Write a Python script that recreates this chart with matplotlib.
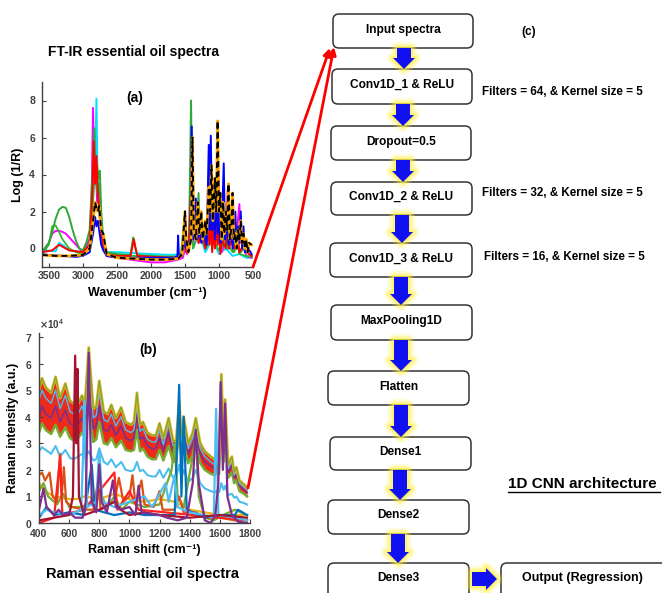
import numpy as np
import matplotlib
matplotlib.use('Agg')
import matplotlib.pyplot as plt
from matplotlib.patches import FancyBboxPatch, Polygon
from matplotlib.ticker import ScalarFormatter

plt.rcParams['font.family'] = ['Liberation Sans', 'DejaVu Sans']
plt.rcParams['font.weight'] = 'bold'
plt.rcParams['axes.labelweight'] = 'bold'

# ---------------- FT-IR spectra (panel a) ----------------
ftir_cyan_x = [3600, 3400, 3350, 3300, 3200, 3000, 2900, 2860, 2820, 2800, 2785, 2760, 2730, 2700, 2650, 2500, 2000, 1700, 1560, 1500, 1460, 1420, 1400, 1380, 1300, 1200, 1100, 1000, 900, 800, 700, 600, 520]
ftir_cyan_y = [-0.1, -0.15, 0.3, 0.2, -0.1, -0.2, 0.5, 2.5, 4.5, 8.1, 4.0, 3.0, 1.0, 0.0, -0.2, -0.2, -0.3, -0.35, -0.3, 0.0, -0.2, 0.5, 1.5, 0.0, 1.0, -0.2, 0.5, -0.3, 0.0, -0.4, -0.3, -0.5, -0.5]

ftir_magenta_x = [3600, 3500, 3450, 3400, 3350, 3300, 3250, 3200, 3100, 3000, 2900, 2870, 2850, 2830, 2810, 2790, 2760, 2730, 2700, 2650, 2500, 2000, 1800, 1600, 1530, 1500, 1470, 1420, 1400, 1380, 1320, 1300, 1240, 1200, 1100, 1080, 1000, 960, 900, 860, 800, 760, 700, 680, 640, 600, 520]
ftir_magenta_y = [-0.2, 0.3, 0.8, 0.95, 0.95, 0.9, 0.8, 0.6, 0.2, -0.2, 0.5, 3.0, 7.6, 3.5, 4.5, 2.5, 3.5, 1.5, 0.3, -0.4, -0.5, -0.75, -0.75, -0.6, -0.5, 0.0, -0.3, 0.3, 2.0, 0.3, 2.2, 0.3, 1.0, 0.0, 2.0, 0.3, 1.3, -0.2, 0.5, 0.0, 1.0, 0.0, 2.4, 0.3, 0.3, -0.4, -0.5]

ftir_green_x = [3600, 3500, 3450, 3400, 3350, 3300, 3250, 3200, 3150, 3100, 3050, 3000, 2950, 2900, 2860, 2830, 2810, 2790, 2770, 2750, 2730, 2700, 2650, 2500, 2300, 2260, 2240, 2200, 2000, 1700, 1560, 1510, 1480, 1440, 1410, 1390, 1350, 1330, 1300, 1280, 1240, 1200, 1160, 1140, 1120, 1100, 1060, 1040, 1000, 960, 900, 870, 820, 780, 720, 700, 640, 560, 520]
ftir_green_y = [-0.2, 0.3, 0.9, 1.6, 2.1, 2.25, 2.2, 1.7, 1.0, 0.4, 0.0, -0.1, 0.3, 1.0, 4.0, 6.5, 3.5, 4.5, 3.8, 4.2, 2.0, 0.5, -0.2, -0.3, -0.35, 0.6, 0.2, -0.35, -0.4, -0.45, -0.4, 1.5, 0.0, 0.5, 8.0, 1.0, 2.0, 0.5, 3.0, 0.5, 1.2, 0.2, 2.5, 1.0, 3.0, 1.0, 2.0, 0.5, 1.5, 0.0, 1.0, 0.0, 0.8, -0.2, 0.3, -0.3, 0.0, -0.3, -0.4]

ftir_green2_x = [3600, 3500, 3450, 3400, 3350, 3300, 3200, 3100, 3000, 2900, 2850, 2820, 2790, 2760, 2730, 2700, 2650, 2500, 2000, 1600, 1540, 1500, 1470, 1420, 1400, 1380, 1300, 1200, 1100, 1000, 900, 800, 740, 700, 600, 520]
ftir_green2_y = [-0.3, 0.2, 1.2, 1.25, 0.9, 0.5, 0.0, -0.2, -0.3, 0.3, 2.5, 4.3, 3.0, 3.5, 1.2, 0.2, -0.3, -0.35, -0.45, -0.45, -0.4, 0.5, -0.2, 0.4, 1.2, 0.0, 0.8, 0.0, 0.6, -0.1, 0.4, -0.2, 1.0, -0.3, -0.4, -0.45]

ftir_red_x = [3600, 3450, 3350, 3300, 3200, 3000, 2900, 2860, 2840, 2820, 2800, 2780, 2760, 2730, 2700, 2650, 2500, 2300, 2250, 2230, 2200, 2000, 1700, 1560, 1510, 1480, 1440, 1410, 1390, 1340, 1300, 1240, 1200, 1160, 1140, 1120, 1100, 1080, 1060, 1040, 1020, 1000, 980, 960, 900, 870, 850, 820, 780, 720, 700, 640, 560, 520]
ftir_red_y = [-0.2, -0.1, 0.2, 0.1, -0.1, -0.2, 0.2, 3.0, 5.8, 3.5, 5.0, 3.0, 2.0, 0.8, 0.2, -0.3, -0.4, -0.4, 0.5, 0.1, -0.4, -0.45, -0.5, -0.45, 0.3, -0.2, 0.5, 3.0, 0.5, 1.5, 0.3, 0.8, 0.0, 1.0, 0.2, 1.3, -0.2, 1.2, 0.0, 1.3, 0.2, 1.0, -0.3, 0.5, 0.0, 3.2, 0.0, 0.5, 0.0, 0.5, -0.2, 0.2, -0.3, -0.4]

ftir_blue_x = [3600, 3500, 3300, 3100, 3000, 2900, 2850, 2820, 2800, 2780, 2760, 2730, 2700, 2650, 2500, 2000, 1650, 1610, 1600, 1590, 1550, 1500, 1480, 1420, 1400, 1380, 1340, 1320, 1290, 1260, 1220, 1180, 1150, 1140, 1120, 1100, 1080, 1060, 1040, 1020, 1000, 980, 960, 930, 910, 880, 860, 820, 800, 760, 740, 720, 700, 680, 660, 640, 620, 600, 520]
ftir_blue_y = [-0.3, -0.35, -0.4, -0.45, -0.4, -0.2, 0.8, 1.7, 1.2, 1.5, 1.0, 0.2, -0.1, -0.4, -0.5, -0.5, -0.5, -0.4, 0.7, -0.3, -0.4, 0.5, 0.0, 0.5, 6.6, 0.5, 2.7, 0.5, 1.0, 0.3, 0.8, 0.2, 5.6, 1.0, 6.1, 1.0, 3.0, 0.5, 3.5, 0.8, 2.0, 0.3, 0.8, 4.6, 0.5, 1.5, 0.2, 1.0, 0.0, 2.0, 0.0, 1.2, 0.3, 2.0, 0.0, 1.2, -0.2, 0.2, -0.3]

ftir_black_x = [3600, 3400, 3200, 3000, 2900, 2850, 2820, 2800, 2780, 2760, 2730, 2700, 2650, 2500, 2000, 1800, 1600, 1540, 1500, 1480, 1450, 1410, 1390, 1370, 1340, 1310, 1290, 1260, 1240, 1200, 1180, 1150, 1130, 1110, 1090, 1060, 1040, 1020, 1000, 980, 960, 940, 920, 900, 880, 860, 840, 820, 800, 780, 760, 740, 720, 700, 680, 660, 640, 620, 600, 580, 560, 520]
ftir_black_y = [-0.35, -0.4, -0.4, -0.35, 0.0, 1.5, 2.5, 2.2, 2.0, 2.3, 1.0, 0.8, -0.3, -0.5, -0.6, -0.6, -0.55, -0.3, 2.0, 0.5, -0.2, 0.5, 6.0, 1.0, 0.5, 2.5, 0.8, 2.0, 0.5, 1.5, 0.8, 3.3, 2.0, 4.5, 1.5, 3.8, 2.0, 6.9, 2.0, 3.0, 0.5, 2.5, 0.8, 2.0, 1.0, 3.5, 0.5, 1.0, 3.0, 0.5, 0.8, 0.0, 1.0, 0.5, 1.5, 0.3, 0.8, 0.0, 0.5, -0.2, 0.3, 0.2]

ftir_xticks = [3500, 3000, 2500, 2000, 1500, 1000, 500]
ftir_yticks = [0, 2, 4, 6, 8]

# ---------------- Raman spectra (panel b), intensities in units of 1e4 ----------------
raman_band_x = [400, 420, 445, 480, 510, 540, 575, 605, 630, 660, 685, 705, 730, 760, 780, 800, 830, 855, 880, 910, 945, 975, 1010, 1030, 1050, 1070, 1090, 1120, 1150, 1175, 1200, 1225, 1260, 1290, 1310, 1330, 1345, 1360, 1390, 1420, 1440, 1470, 1500, 1540, 1565, 1580, 1595, 1610, 1625, 1635, 1655, 1680, 1695, 1710, 1730, 1760, 1780]
raman_band_top = [5.0, 5.45, 5.1, 4.9, 5.5, 4.7, 5.25, 4.6, 4.5, 4.5, 4.8, 4.5, 6.6, 4.3, 4.4, 5.35, 4.2, 4.1, 4.45, 3.95, 4.35, 3.8, 3.7, 3.8, 4.9, 3.7, 3.8, 3.4, 3.3, 3.3, 3.75, 3.2, 3.95, 3.1, 3.1, 4.6, 3.3, 4.0, 3.0, 3.4, 3.95, 3.0, 2.7, 2.5, 2.4, 2.6, 2.5, 5.6, 3.0, 4.65, 2.2, 2.5, 1.9, 2.1, 1.6, 1.45, 1.35]
raman_band_mid1 = [4.6, 5.0, 4.7, 4.5, 5.0, 4.3, 4.8, 4.2, 4.1, 4.1, 4.4, 4.1, 6.2, 3.95, 4.05, 4.9, 3.9, 3.8, 4.1, 3.65, 4.0, 3.5, 3.4, 3.5, 4.5, 3.45, 3.55, 3.15, 3.05, 3.05, 3.5, 2.95, 3.7, 2.9, 2.9, 4.3, 3.05, 3.75, 2.8, 3.2, 3.7, 2.8, 2.5, 2.3, 2.2, 2.4, 2.3, 5.2, 2.8, 4.3, 2.05, 2.35, 1.8, 1.95, 1.5, 1.35, 1.25]
raman_band_mid2 = [4.0, 4.4, 4.1, 3.95, 4.4, 3.8, 4.25, 3.75, 3.65, 3.7, 3.95, 3.7, 5.5, 3.55, 3.65, 4.4, 3.5, 3.45, 3.7, 3.3, 3.65, 3.2, 3.1, 3.2, 4.1, 3.15, 3.25, 2.9, 2.8, 2.8, 3.2, 2.7, 3.4, 2.65, 2.65, 4.0, 2.8, 3.45, 2.6, 2.95, 3.45, 2.6, 2.3, 2.15, 2.05, 2.2, 2.15, 4.8, 2.6, 4.0, 1.9, 2.2, 1.7, 1.85, 1.4, 1.25, 1.15]
raman_band_bottom = [3.4, 3.75, 3.5, 3.35, 3.7, 3.25, 3.6, 3.2, 3.1, 3.2, 3.4, 3.2, 4.5, 3.05, 3.15, 3.8, 3.0, 2.95, 3.2, 2.85, 3.1, 2.75, 2.7, 2.75, 3.5, 2.7, 2.8, 2.5, 2.4, 2.4, 2.75, 2.35, 2.9, 2.3, 2.3, 3.5, 2.45, 3.0, 2.25, 2.55, 3.0, 2.25, 2.0, 1.85, 1.8, 1.9, 1.85, 4.2, 2.3, 3.5, 1.7, 1.9, 1.5, 1.6, 1.2, 1.1, 1.0]
raman_band_cyan = [2.7, 2.85, 2.75, 2.6, 2.9, 2.5, 2.75, 2.45, 2.4, 2.5, 2.6, 2.45, 2.7, 2.35, 2.4, 2.8, 2.3, 2.2, 2.4, 2.1, 2.3, 2.0, 1.95, 2.0, 2.3, 1.95, 2.0, 1.8, 1.75, 1.75, 2.0, 1.7, 2.05, 1.7, 1.7, 2.2, 1.7, 2.0, 1.55, 1.7, 2.0, 1.5, 1.3, 1.2, 1.15, 1.2, 1.15, 1.5, 1.25, 1.4, 1.05, 1.1, 0.95, 1.0, 0.8, 0.75, 0.7]

raman_yellow_x = [400, 440, 500, 600, 650, 700, 800, 900, 1000, 1100, 1200, 1300, 1400, 1500, 1600, 1780]
raman_yellow_y = [1.5, 1.2, 1.0, 0.9, 0.9, 1.0, 0.9, 1.1, 0.9, 0.8, 0.9, 0.8, 0.5, 0.4, 0.3, 0.3]
raman_green_x = [400, 430, 460, 520, 560, 600, 680, 760, 800, 850, 900, 950, 1000, 1050, 1100, 1200, 1280, 1300, 1320, 1360, 1420, 1440, 1460, 1500, 1560, 1620, 1700, 1780]
raman_green_y = [1.2, 1.5, 1.0, 0.7, 1.1, 0.6, 0.6, 0.8, 1.2, 0.6, 1.0, 0.5, 0.8, 0.7, 0.6, 0.7, 2.0, 3.0, 1.0, 0.6, 2.5, 3.3, 1.0, 0.2, 0.1, 0.3, 0.5, 0.3]
raman_orange_x = [400, 420, 440, 470, 490, 520, 540, 550, 565, 580, 620, 700, 760, 790, 810, 900, 930, 960, 1000, 1020, 1040, 1080, 1100, 1160, 1200, 1220, 1300, 1330, 1360, 1440, 1500, 1600, 1700, 1780]
raman_orange_y = [1.8, 1.9, 1.6, 1.9, 1.0, 0.8, 2.6, 1.0, 2.1, 0.8, 0.6, 0.5, 0.5, 1.5, 0.5, 0.8, 1.7, 0.8, 1.0, 1.8, 0.7, 1.6, 0.7, 0.6, 1.2, 0.5, 0.5, 1.0, 0.4, 0.4, 0.2, 0.2, 0.1, 0.1]
raman_red_x = [400, 500, 540, 555, 700, 900, 920, 1000, 1060, 1780]
raman_red_y = [0.0, 0.2, 2.5, 0.3, 0.5, 1.9, 0.5, 1.2, 0.5, 0.1]
raman_blue_x = [400, 450, 500, 600, 700, 750, 770, 900, 1000, 1100, 1300, 1330, 1345, 1360, 1380, 1500, 1600, 1700, 1720, 1780]
raman_blue_y = [0.2, 0.6, 0.3, 0.4, 0.3, 2.2, 0.5, 0.3, 0.4, 0.3, 0.3, 5.2, 1.0, 4.0, 0.5, 0.2, 0.3, 0.3, 0.5, 0.3]
raman_cyan_x = [400, 450, 500, 600, 680, 692, 700, 708, 720, 780, 800, 820, 900, 1000, 1100, 1150, 1240, 1260, 1300, 1320, 1400, 1500, 1560, 1575, 1590, 1700, 1780]
raman_cyan_y = [0.3, 0.5, 0.4, 0.3, 0.5, 2.5, 4.6, 2.5, 0.6, 0.8, 2.8, 0.8, 0.6, 0.8, 1.0, 0.6, 1.5, 0.8, 1.8, 0.6, 0.4, 0.3, 0.2, 4.3, 0.3, 0.2, 0.1]
raman_darkred_x = [400, 500, 600, 625, 640, 648, 655, 665, 700, 800, 900, 940, 1000, 1100, 1200, 1400, 1600, 1780]
raman_darkred_y = [0.1, 0.2, 0.3, 1.0, 6.3, 3.0, 5.8, 1.0, 0.3, 0.5, 0.8, 0.5, 0.3, 0.4, 0.3, 0.2, 0.3, 0.2]
raman_purple_x = [400, 430, 450, 500, 530, 560, 600, 640, 690, 710, 722, 730, 738, 750, 780, 800, 815, 850, 890, 910, 940, 1000, 1040, 1060, 1080, 1200, 1250, 1320, 1380, 1420, 1440, 1460, 1500, 1540, 1570, 1590, 1605, 1620, 1635, 1650, 1680, 1720, 1780]
raman_purple_y = [0.5, 1.3, 0.6, 0.3, 0.5, 0.3, 0.4, 0.2, 0.2, 0.8, 4.0, 6.4, 4.0, 0.8, 0.4, 2.2, 0.8, 0.4, 1.6, 0.6, 0.5, 0.6, 0.3, 1.4, 0.4, 0.3, 0.2, 0.1, 0.2, 1.5, 3.5, 1.5, 0.1, 0.0, 0.3, 1.5, 5.3, 2.0, 4.5, 1.0, 0.3, 0.05, 0.0]

raman_xticks = [400, 600, 800, 1000, 1200, 1400, 1600, 1800]
raman_yticks = [0, 1, 2, 3, 4, 5, 6, 7]
raman_scale = 1e4

# ---------------- Flowchart text ----------------
layer_labels = ["Input spectra", "Conv1D_1 & ReLU", "Dropout=0.5", "Conv1D_2 & ReLU",
                "Conv1D_3 & ReLU", "MaxPooling1D", "Flatten", "Dense1", "Dense2", "Dense3"]
output_label = "Output (Regression)"
filter_notes = ["Filters = 64, & Kernel size = 5", "Filters = 32, & Kernel size = 5",
                "Filters = 16, & Kernel size = 5"]

W, H = 662, 593
fig = plt.figure(figsize=(W / 100, H / 100), dpi=100)
fig.patch.set_facecolor('white')

def px_axes(l, t, r, b):
    return fig.add_axes([l / W, 1 - b / H, (r - l) / W, (b - t) / H])

tick_color = '#404040'

def style_axes(ax):
    for s in ['top', 'right']:
        ax.spines[s].set_visible(False)
    for s in ['left', 'bottom']:
        ax.spines[s].set_color(tick_color)
        ax.spines[s].set_linewidth(1.0)
    ax.tick_params(direction='in', length=3, width=0.8, labelsize=7.5,
                   colors=tick_color, pad=3)
    ax.tick_params(axis='y', pad=5)
    for lab in ax.get_xticklabels() + ax.get_yticklabels():
        lab.set_fontweight('bold')

# ---- panel (a)
axa = px_axes(42, 82, 253, 267)
axa.plot(ftir_cyan_x, ftir_cyan_y, color='#00E0FF', lw=1.4)
axa.plot(ftir_magenta_x, ftir_magenta_y, color='#FF00FF', lw=1.4)
axa.plot(ftir_green2_x, ftir_green2_y, color='#33B833', lw=1.3)
axa.plot(ftir_green_x, ftir_green_y, color='#2EA836', lw=1.4)
axa.plot(ftir_red_x, ftir_red_y, color='#FF0000', lw=1.4)
axa.plot(ftir_blue_x, ftir_blue_y, color='#0000FF', lw=1.4)
axa.plot(ftir_black_x, ftir_black_y, color='#FFA500', lw=2.0)
axa.plot(ftir_black_x, ftir_black_y, color='black', lw=1.4, dashes=(3, 2))
axa.set_xlim(3600, 500)
axa.set_ylim(-1, 9)
axa.set_xticks(ftir_xticks)
axa.set_yticks(ftir_yticks)
style_axes(axa)
axa.set_xlabel('Wavenumber (cm⁻¹)', fontsize=9, fontweight='bold', labelpad=4)
axa.set_ylabel('Log (1/R)', fontsize=9, fontweight='bold', labelpad=4)

# ---- panel (b)
axb = px_axes(39, 333, 250, 523)
bx = np.array(raman_band_x)
axb.fill_between(bx, np.array(raman_band_bottom) * raman_scale,
                 np.array(raman_band_top) * raman_scale, color='#EE2A1B', lw=0)
axb.plot(bx, np.array(raman_band_cyan) * raman_scale, color='#4DBEEE', lw=1.5)
axb.plot(bx, np.array(raman_band_bottom) * raman_scale, color='#77AC30', lw=1.8)
axb.plot(bx, np.array(raman_band_mid2) * raman_scale, color='#7E2F8E', lw=1.2)
axb.plot(bx, np.array(raman_band_mid1) * raman_scale, color='#4DBEEE', lw=1.0)
axb.plot(bx, np.array(raman_band_top) * raman_scale, color='#EDB120', lw=2.0)
axb.plot(bx, np.array(raman_band_top) * raman_scale, color='#77AC30', lw=0.9)
low_series = [
    (raman_yellow_x, raman_yellow_y, '#EDB120'),
    (raman_green_x, raman_green_y, '#77AC30'),
    (raman_orange_x, raman_orange_y, '#D95319'),
    (raman_red_x, raman_red_y, '#FF2020'),
    (raman_blue_x, raman_blue_y, '#0072BD'),
    (raman_cyan_x, raman_cyan_y, '#4DBEEE'),
    (raman_darkred_x, raman_darkred_y, '#A2142F'),
    (raman_purple_x, raman_purple_y, '#7E2F8E'),
]
for xs, ys, c in low_series:
    axb.plot(xs, np.array(ys) * raman_scale, color=c, lw=1.6)
axb.set_xlim(400, 1800)
axb.set_ylim(0, 7.15 * raman_scale)
axb.set_xticks(raman_xticks)
axb.set_yticks(np.array(raman_yticks) * raman_scale)
fmt = ScalarFormatter(useMathText=True)
fmt.set_powerlimits((0, 0))
axb.yaxis.set_major_formatter(fmt)
style_axes(axb)
axb.tick_params(axis='x', pad=4)
axb.yaxis.get_offset_text().set_fontsize(7)
axb.yaxis.get_offset_text().set_color(tick_color)
axb.set_xlabel('Raman shift (cm⁻¹)', fontsize=9, fontweight='bold', labelpad=4)
axb.set_ylabel('Raman intensity (a.u.)', fontsize=9, fontweight='bold', labelpad=4)

# ---- overlay in pixel coordinates
ov = fig.add_axes([0, 0, 1, 1], zorder=10)
ov.set_xlim(0, W)
ov.set_ylim(H, 0)
ov.axis('off')
ov.patch.set_alpha(0)

ov.text(133, 52, 'FT-IR essential oil spectra', ha='center', va='center', fontsize=10, fontweight='bold')
ov.text(135, 98, '(a)', ha='center', va='center', fontsize=10, fontweight='bold')
ov.text(148, 350, '(b)', ha='center', va='center', fontsize=10, fontweight='bold')
ov.text(143, 574, 'Raman essential oil spectra', ha='center', va='center', fontsize=10.5, fontweight='bold')
ov.text(529, 32, '(c)', ha='center', va='center', fontsize=8.5, fontweight='bold')

box_geom = [(333, 14, 473, 48), (332, 69, 472, 104), (331, 126, 471, 160), (331, 182, 472, 215),
            (330, 243, 472, 277), (331, 305, 472, 340), (328, 371, 469, 405), (330, 437, 471, 470),
            (328, 500, 469, 534), (328, 563, 469, 603)]
for lab, (l, t, r, b) in zip(layer_labels, box_geom):
    ov.add_patch(FancyBboxPatch((l, t), r - l, b - t, boxstyle='round,pad=0,rounding_size=6',
                                fc='white', ec='#333333', lw=1.1))
    cy = (t + b) / 2 - 1.5 if lab != 'Dense3' else 578
    ov.text((l + r) / 2, cy, lab, ha='center', va='center', fontsize=8.6, fontweight='bold')
ov.add_patch(FancyBboxPatch((501, 563), 200, 40, boxstyle='round,pad=0,rounding_size=6',
                            fc='white', ec='#333333', lw=1.1))
ov.text(582, 578, output_label, ha='center', va='center', fontsize=9, fontweight='bold')

for note, (x, y) in zip(filter_notes, [(482, 92), (482, 193), (484, 257)]):
    ov.text(x, y, note, ha='left', va='center', fontsize=8.4, fontweight='bold')

ov.text(508, 484, '1D CNN architecture', ha='left', va='center', fontsize=11, fontweight='bold')
ov.plot([508, 660], [492, 492], color='black', lw=1.0)

def block_arrow(x0, y0, x1, y1):
    # arrow from (x0,y0) to (x1,y1), vertical or horizontal
    hw, hh, hl = 7, 11, 11
    if x0 == x1:
        d = 1 if y1 > y0 else -1
        yh = y1 - d * hl
        pts = [(x0 - hw, y0), (x0 + hw, y0), (x0 + hw, yh), (x0 + hh, yh), (x0, y1),
               (x0 - hh, yh), (x0 - hw, yh)]
    else:
        d = 1 if x1 > x0 else -1
        xh = x1 - d * hl
        pts = [(x0, y0 - hw), (x0, y0 + hw), (xh, y0 + hw), (xh, y0 + hh), (x1, y0),
               (xh, y0 - hh), (xh, y0 - hw)]
    for lw, a in [(9, 0.18), (6, 0.3), (3, 0.5)]:
        ov.add_patch(Polygon(pts, closed=True, fc='none', ec='#FFF040', lw=lw, alpha=a,
                             joinstyle='round'))
    ov.add_patch(Polygon(pts, closed=True, fc='#1010F0', ec='none'))

for cx, y0, y1 in [(404, 48, 69), (403, 104, 126), (403, 160, 182), (402, 215, 243),
                   (401, 277, 305), (401, 340, 371), (401, 405, 437), (400, 470, 500),
                   (398, 534, 563)]:
    block_arrow(cx, y0, cx, y1)
block_arrow(472, 579, 497, 579)

for sx, sy, ex, ey in [(253, 267, 330, 48), (248, 488, 334, 47)]:
    ov.annotate('', xy=(ex, ey), xytext=(sx, sy),
                arrowprops=dict(arrowstyle='-|>', color='#FF0000', lw=2.0, mutation_scale=11,
                                shrinkA=0, shrinkB=0))

fig.savefig('out.png', dpi=100)
